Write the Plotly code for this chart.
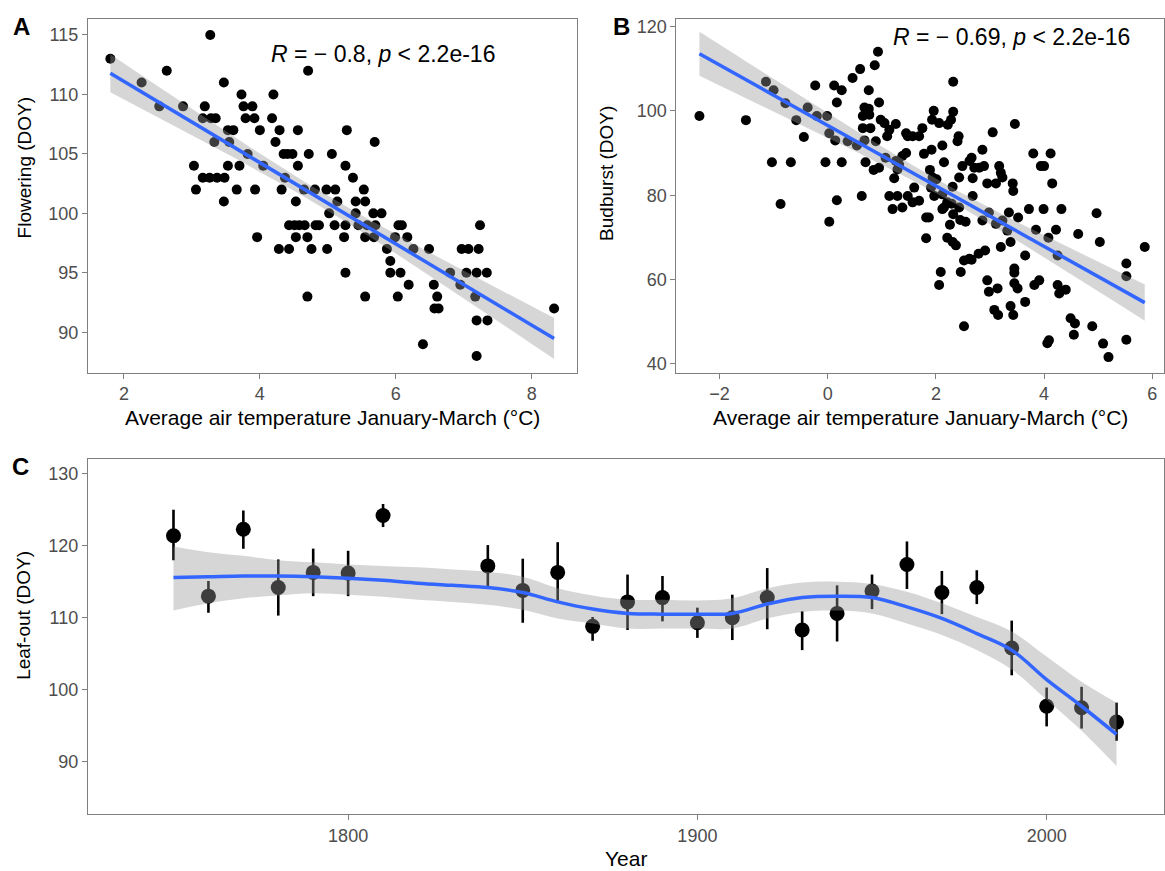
import numpy as np
import plotly.graph_objects as go

W, H = 1165, 871

# ---------------- Panel A: Flowering vs temperature ----------------
temp_a = [1.80, 3.27, 2.26, 2.63, 2.52, 2.87, 3.19, 3.16, 3.28, 3.35, 3.47, 3.73, 3.76, 3.89,
          3.79, 3.92, 4.20, 4.18, 4.71, 3.53, 3.61, 4.00, 4.29, 4.56, 5.28, 3.33, 3.55, 4.23,
          5.69, 3.82, 4.35, 4.41, 4.48, 4.72, 5.06, 3.03, 3.53, 3.70, 4.05, 4.56, 5.26, 3.16,
          3.26, 3.37, 3.48, 4.37, 5.37, 3.06, 3.66, 3.93, 4.32, 4.65, 4.81, 4.98, 5.11, 5.53,
          3.47, 4.53, 5.14, 5.41, 5.55, 5.02, 5.41, 5.67, 5.79, 4.43, 4.51, 4.58, 4.66, 4.82,
          4.87, 5.10, 5.26, 5.45, 5.58, 5.70, 6.04, 6.09, 7.24, 3.96, 4.53, 4.70, 5.24, 5.55,
          5.68, 5.99, 6.17, 4.28, 4.43, 4.76, 4.99, 5.87, 6.26, 6.49, 6.97, 7.07, 7.22, 5.92,
          5.26, 5.92, 6.07, 6.80, 7.04, 7.19, 7.34, 6.19, 6.56, 6.95, 4.70, 5.55, 6.03, 6.61,
          7.17, 6.57, 6.63, 8.33, 7.19, 7.35, 6.40, 7.19]
flower_a = [113, 115, 111, 112, 109, 109, 109, 108, 108, 108, 111, 110, 109, 109,
            108, 108, 110, 108, 112, 107, 107, 107, 107, 107, 107, 106, 106, 106,
            106, 105, 105, 105, 105, 105, 105, 104, 104, 104, 104, 104, 104, 103,
            103, 103, 103, 103, 103, 102, 102, 102, 102, 102, 102, 102, 102, 102,
            101, 101, 101, 101, 101, 100, 100, 100, 100, 99, 99, 99, 99, 99,
            99, 99, 99, 99, 99, 99, 99, 99, 99, 98, 98, 98, 98, 98,
            98, 98, 98, 97, 97, 97, 97, 97, 97, 97, 97, 97, 97, 96,
            95, 95, 95, 95, 95, 95, 95, 94, 94, 94, 93, 93, 93, 93,
            93, 92, 92, 92, 91, 91, 89, 88]

# ---------------- Panel B: Budburst vs temperature ----------------
temp_b = [-2.37, -1.51, -1.14, -1.00, -0.78, -0.58, -0.44, -1.03, -0.68, -0.87, -0.23, -0.37,
          -0.20, -0.01, 0.03, 0.14, -0.04, 0.26, 0.17, 0.03, 0.12, 0.26, 0.17, 0.46, 0.60,
          0.87, 0.93, 0.76, 0.95, 0.68, 0.71, 0.65, 0.65, 0.79, 0.37, 0.54, 0.68, 0.89, 0.70,
          0.85, 0.63, 0.98, 1.05, 1.14, 1.26, 1.10, 1.07, 1.23, 1.14, 1.20, 1.29, 1.38, 1.48,
          1.57, 1.69, 1.60, 1.45, 1.48, 1.69, 1.75, 1.38, 1.45, 1.32, 1.29, 1.78, 1.92, 2.12,
          1.96, 1.93, 2.06, 2.22, 2.32, 2.32, 2.28, 2.42, 2.40, 2.15, 1.89, 1.94, 2.01, 1.91,
          1.97, 2.12, 2.31, 2.12, 2.21, 2.29, 2.26, 2.32, 2.43, 2.45, 2.55, 2.21, 2.31, 2.37,
          1.82, 1.87, 1.82, 2.46, 2.52, 2.62, 2.09, 2.06, 2.52, 2.49, 2.62, 2.66, 2.68, 2.71,
          2.80, 2.86, 2.89, 2.95, 3.11, 3.05, 3.17, 3.20, 3.23, 3.42, 3.43, 3.46, 2.86, 2.98,
          3.11, 3.23, 3.35, 3.32, 3.52, 3.38, 3.20, 2.91, 2.79, 2.66, 3.65, 3.45, 3.45, 2.95,
          2.98, 3.14, 3.45, 3.51, 3.08, 3.15, 3.38, 3.43, 3.65, 3.72, 3.85, 3.80, 3.94, 4.00,
          4.12, 4.15, 3.99, 4.08, 4.22, 4.32, 4.25, 3.82, 3.91, 4.25, 4.28, 4.40, 4.06, 4.09,
          4.49, 4.57, 4.55, 4.63, 4.89, 4.97, 5.03, 5.09, 5.19, 5.52, 5.52, 5.52, 5.86, 2.43,
          2.68, 2.15, 0.95, 1.26, 1.57, 0.76, 0.77]
budburst_b = [98.8, 97.8, 106.9, 104.9, 101.8, 97.8, 93.8, 87.8, 87.8, 77.9, 106.0, 100.8,
              98.8, 98.8, 94.7, 93.0, 87.8, 87.8, 78.8, 73.7, 106.0, 104.9, 102.0, 107.8, 109.9,
              110.8, 114.0, 104.9, 102.0, 100.8, 99.8, 98.8, 95.9, 95.9, 92.8, 91.8, 93.0, 92.8, 87.8,
              86.0, 79.8, 97.9, 97.1, 95.5, 96.9, 94.0, 88.9, 84.0, 79.8, 76.7, 79.8, 77.1, 79.8,
              78.3, 78.7, 81.8, 94.7, 94.0, 94.0, 95.9, 89.3, 90.0, 87.3, 86.1, 89.8, 90.8, 91.8,
              100.0, 97.9, 97.1, 96.7, 99.8, 106.9, 97.9, 94.0, 92.8, 87.8, 86.0, 84.2, 83.8, 81.8,
              79.8, 80.2, 82.0, 76.7, 78.3, 78.0, 73.0, 75.5, 77.1, 74.1, 73.7, 69.9, 68.9, 68.1,
              74.7, 74.7, 69.8, 61.8, 64.5, 64.9, 61.8, 58.7, 48.9, 86.9, 88.1, 88.9, 84.0, 86.5,
              86.5, 90.8, 86.9, 82.8, 82.8, 94.9, 86.9, 85.3, 84.2, 82.8, 81.0, 96.9, 74.0, 75.9,
              73.2, 74.0, 75.9, 71.6, 74.7, 68.9, 67.7, 66.9, 66.1, 64.7, 65.7, 62.6, 61.6, 59.8,
              57.1, 57.9, 59.1, 57.9, 52.8, 51.6, 53.7, 51.6, 54.7, 76.7, 71.8, 89.9, 86.9, 86.9,
              89.9, 82.8, 76.7, 69.9, 71.8, 76.7, 65.7, 58.7, 59.8, 58.7, 56.7, 57.6, 44.9, 45.6,
              50.8, 49.6, 46.9, 70.8, 48.9, 75.7, 68.9, 44.8, 41.6, 63.8, 60.8, 45.7, 67.7, 84.2,
              79.8, 77.1, 86.5, 88.1, 94.0, 100.5, 99.1]

# ---------------- Panel C: Leaf-out by decade ----------------
year_c = [1750, 1760, 1770, 1780, 1790, 1800, 1810, 1840, 1850, 1860, 1870, 1880, 1890,
          1900, 1910, 1920, 1930, 1940, 1950, 1960, 1970, 1980, 1990, 2000, 2010, 2020]
leaf_mean = [121.4, 113.0, 122.3, 114.2, 116.3, 116.2, 124.2, 117.2, 113.8, 116.3, 108.8, 112.2, 112.8,
             109.3, 110.0, 112.8, 108.3, 110.6, 113.7, 117.4, 113.5, 114.2, 105.8, 97.7, 97.5, 95.5]
leaf_hi = [125.0, 115.1, 124.9, 118.1, 119.6, 119.3, 125.8, 120.1, 118.2, 120.5, 110.1, 116.0, 115.8,
           111.4, 113.2, 116.9, 110.9, 114.5, 116.0, 120.6, 116.5, 116.6, 109.6, 100.3, 100.4, 98.2]
leaf_lo = [118.0, 110.7, 119.6, 110.3, 113.0, 113.0, 122.6, 114.3, 109.3, 112.2, 106.8, 108.3, 109.5,
           107.2, 106.9, 108.4, 105.5, 106.7, 111.2, 114.0, 110.5, 111.9, 102.0, 94.9, 94.6, 92.9]

smooth_year = [1750, 1760, 1770, 1780, 1790, 1800, 1810, 1820, 1830, 1840, 1850, 1860, 1870, 1880,
               1890, 1900, 1910, 1920, 1930, 1940, 1950, 1960, 1970, 1980, 1990, 2000, 2010, 2020]
smooth_fit = [115.6, 115.7, 115.8, 115.8, 115.7, 115.5, 115.2, 114.8, 114.5, 114.2, 113.5, 112.2, 111.2, 110.6,
              110.5, 110.5, 110.6, 111.9, 112.8, 113.0, 112.8, 111.5, 109.9, 107.8, 105.5, 101.4, 97.7, 93.8]
smooth_lo = [111.0, 112.0, 112.7, 113.1, 113.4, 113.2, 112.9, 112.5, 112.2, 111.8, 111.1, 109.9, 109.2, 108.5,
             108.5, 108.5, 108.5, 109.9, 110.8, 111.0, 110.6, 109.2, 107.6, 105.5, 102.8, 98.6, 94.3, 89.4]
smooth_hi = [119.9, 119.1, 118.6, 118.0, 117.7, 117.4, 117.2, 117.0, 116.7, 116.4, 115.7, 114.1, 113.1, 112.5,
             112.5, 112.4, 112.7, 114.1, 114.9, 115.0, 114.7, 113.6, 112.0, 110.1, 108.1, 104.6, 101.1, 98.2]

BLUE = "#3366FF"
BAND = "rgba(153,153,153,0.4)"
FONT = "Liberation Sans, Arial, Helvetica, sans-serif"


def px(x):
    return x / W


def py(y):
    return 1 - y / H


def lin_fit(x, y, t=1.975):
    x = np.asarray(x, float)
    y = np.asarray(y, float)
    b, a = np.polyfit(x, y, 1)
    n = len(x)
    resid = y - (a + b * x)
    s = np.sqrt((resid ** 2).sum() / (n - 2))
    xg = np.linspace(x.min(), x.max(), 80)
    yg = a + b * xg
    se = s * np.sqrt(1.0 / n + (xg - x.mean()) ** 2 / ((x - x.mean()) ** 2).sum())
    return xg, yg, yg - t * se, yg + t * se


fig = go.Figure()

for (xs, ys, xa, ya) in [(temp_a, flower_a, "x", "y"), (temp_b, budburst_b, "x2", "y2")]:
    fig.add_trace(go.Scatter(x=xs, y=ys, mode="markers", xaxis=xa, yaxis=ya,
                             marker=dict(color="black", size=10, line=dict(width=0)),
                             showlegend=False, hoverinfo="skip"))
    xg, yg, lo, hi = lin_fit(xs, ys)
    fig.add_trace(go.Scatter(x=np.concatenate([xg, xg[::-1]]), y=np.concatenate([lo, hi[::-1]]),
                             mode="lines", fill="toself", fillcolor=BAND, line=dict(width=0),
                             xaxis=xa, yaxis=ya, showlegend=False, hoverinfo="skip"))
    fig.add_trace(go.Scatter(x=xg, y=yg, mode="lines", line=dict(color=BLUE, width=3.5),
                             xaxis=xa, yaxis=ya, showlegend=False, hoverinfo="skip"))

# Panel C
m = np.array(leaf_mean)
fig.add_trace(go.Scatter(x=year_c, y=leaf_mean, mode="markers", xaxis="x3", yaxis="y3",
                         marker=dict(color="black", size=15, line=dict(width=0)),
                         error_y=dict(type="data", symmetric=False,
                                      array=np.array(leaf_hi) - m, arrayminus=m - np.array(leaf_lo),
                                      thickness=2.6, width=0, color="black"),
                         showlegend=False, hoverinfo="skip"))
fig.add_trace(go.Scatter(x=smooth_year, y=smooth_lo, mode="lines",
                         line=dict(width=0, shape="spline", smoothing=1.0, color="rgba(0,0,0,0)"),
                         xaxis="x3", yaxis="y3", showlegend=False, hoverinfo="skip"))
fig.add_trace(go.Scatter(x=smooth_year, y=smooth_hi, mode="lines", fill="tonexty", fillcolor=BAND,
                         line=dict(width=0, shape="spline", smoothing=1.0, color="rgba(0,0,0,0)"),
                         xaxis="x3", yaxis="y3", showlegend=False, hoverinfo="skip"))
fig.add_trace(go.Scatter(x=smooth_year, y=smooth_fit, mode="lines",
                         line=dict(color=BLUE, width=3.5, shape="spline", smoothing=1.0),
                         xaxis="x3", yaxis="y3", showlegend=False, hoverinfo="skip"))

axis_style = dict(showline=True, mirror=True, linecolor="#7F7F7F", linewidth=1.2,
                  ticks="outside", ticklen=5, tickwidth=1.2, tickcolor="#7F7F7F",
                  tickfont=dict(size=18, color="#4D4D4D", family=FONT),
                  showgrid=False, zeroline=False)

top_ab, bot_ab = py(372), py(17)
fig.update_layout(
    width=W, height=H, margin=dict(l=0, r=0, t=0, b=0),
    paper_bgcolor="white", plot_bgcolor="white",
    font=dict(family=FONT),
    xaxis=dict(domain=[px(88), px(577)], range=[1.47, 8.66], anchor="y",
               tickvals=[2, 4, 6, 8], **axis_style),
    yaxis=dict(domain=[top_ab, bot_ab], range=[86.6, 116.35], anchor="x",
               tickvals=[90, 95, 100, 105, 110, 115], **axis_style),
    xaxis2=dict(domain=[px(677), 1.0], range=[-2.795, 6.216], anchor="y2",
                tickvals=[-2, 0, 2, 4, 6], **axis_style),
    yaxis2=dict(domain=[top_ab, bot_ab], range=[37.9, 121.8], anchor="x2",
                tickvals=[40, 60, 80, 100, 120], **axis_style),
    xaxis3=dict(domain=[px(88), 1.0], range=[1725.5, 2033.6], anchor="y3",
                tickvals=[1800, 1900, 2000], **axis_style),
    yaxis3=dict(domain=[py(815), py(459)], range=[82.7, 132.0], anchor="x3",
                tickvals=[90, 100, 110, 120, 130], **axis_style),
)

ann = []


def add_text(text, x, y, size, color="black", angle=0, xanchor="center"):
    ann.append(dict(text=text, x=px(x), y=py(y), xref="paper", yref="paper",
                    showarrow=False, xanchor=xanchor, yanchor="middle", textangle=angle,
                    font=dict(size=size, color=color, family=FONT)))


add_text("<b>A</b>", 22, 25, 24)
add_text("<b>B</b>", 622, 25, 24)
add_text("<b>C</b>", 21, 466, 24)
xt = "Average air temperature January-March (°C)"
add_text(xt, 332.5, 417, 21)
add_text(xt, 921, 417, 21)
add_text("Year", 626.5, 859, 21)
add_text("Flowering (DOY)", 24, 166, 19, angle=-90)
add_text("Budburst (DOY)", 607, 172, 19, angle=-90)
add_text("Leaf-out (DOY)", 24, 615, 19, angle=-90)
add_text("<i>R</i> = − 0.8, <i>p</i> &lt; 2.2e-16", 383, 52, 23)
add_text("<i>R</i> = − 0.69, <i>p</i> &lt; 2.2e-16", 1012, 35, 23)
fig.update_layout(annotations=ann)

fig.write_html("out.html")
